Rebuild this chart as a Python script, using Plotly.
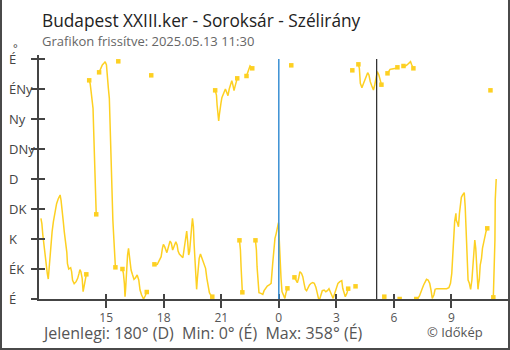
import plotly.graph_objects as go
import pandas as pd

# ---------------- data ----------------
START = pd.Timestamp("2025-05-12 11:30")
END = pd.Timestamp("2025-05-13 12:00")

# minutes after 2025-05-12 11:30
minutes = [
    6, 9, 12, 16, 19, 22, 26, 29, 31, 34, 38, 41, 45, 50, 55, 60, 66, 69, 73, 76,
    79, 84, 87, 89, 93, 99, 102, 105, 110, 116, 121, 125, 128, 131, 135, 138, 141, 144, 148,
    157, 160, 163, 166, 169, 171, 174, 177, 179,
    188, 191, 194, 198, 203, 207, 211, 213, 217, 220, 222, 224, 227, 231, 234, 237, 239,
    248,
    261, 264, 267, 269, 271, 274, 277, 280, 282, 284, 288, 292, 297, 302, 307, 312, 316, 321, 327, 332, 337,
    351,
    361, 363, 370, 375, 382, 386, 389, 393, 396, 400, 405, 410, 414, 418, 422, 428, 432, 435, 439, 444,
    450, 453, 456, 459, 462, 465, 468, 471, 475, 478, 480, 483, 485, 488, 491, 493, 495, 498, 501, 505,
    509, 513, 517, 521, 525, 529, 533, 537, 542,
    551, 555, 557, 560, 562, 564, 567, 569, 572, 576, 579, 583, 587, 591, 595, 600, 603, 606, 610, 613, 616, 620,
    627, 630, 632, 635, 636,
    649, 652, 657, 660, 667,
    677, 680, 682, 685, 688, 694, 700, 704, 709, 714, 720, 726, 731, 735, 738, 742, 745, 749, 751, 753,
    757, 760, 764, 769, 772, 777,
    789,
    799, 803, 808, 812, 816, 821, 825, 829, 833, 837, 842, 846, 851, 856, 861, 866, 870, 874, 878, 882,
    886, 892, 897, 902, 907, 911, 916, 920, 925, 930, 935, 941, 947, 950, 954, 958, 963, 967,
    980, 990,
    999, 1002, 1005, 1010, 1014, 1018, 1023, 1028, 1032, 1036, 1041, 1046, 1050, 1054, 1058, 1063, 1067, 1071,
    1080,
    1090, 1094, 1098, 1104, 1111, 1117, 1121,
    1128,
    1140, 1146, 1151, 1157, 1162, 1166, 1171,
    1180, 1185, 1190, 1195, 1199, 1203, 1208, 1212, 1217, 1222, 1226, 1230, 1235, 1239, 1244, 1254, 1265,
    1275, 1282, 1287, 1291, 1294, 1297, 1300, 1304, 1305, 1309, 1312, 1315, 1318, 1321, 1325, 1330, 1333,
    1336, 1339, 1342, 1346, 1350, 1354, 1357, 1360, 1363, 1366, 1369, 1371, 1373, 1375, 1377, 1380, 1384,
    1387, 1390, 1394, 1398, 1402,
    1412,
    1421, 1423, 1426, 1427, 1430,
]

# wind direction, degrees
degrees = [
    121, 113, 96, 78, 63, 55, 38, 30, 43, 63, 86, 101, 116, 131, 143, 150, 156, 148, 133, 116,
    101, 85, 70, 53, 45, 47, 41, 28, 23, 26, 31, 38, 44, 41, 31, 11, 21, 28, 37,
    328, 323, 311, 298, 286, 253, 203, 153, 127,
    340, 343.5, 347, 351, 353.5, 356, 351, 333, 316, 301, 268.5, 213, 173.5, 118.5, 91, 61, 47.5,
    356.5,
    45, 38.5, 23.5, 3.5, 16, 53.5, 66, 76, 68.5, 53.5, 43.5, 37, 29.5, 32, 36, 28.5, 13.5, 6, 0, 4.5, 10.5,
    335.5,
    52, 51, 52, 56, 63.5, 76, 82, 78.5, 73.5, 69.5, 78.5, 87, 83.5, 73.5, 78.5, 86, 81, 72, 67.5, 65,
    62, 72, 81, 96, 102, 86, 66, 71, 88.5, 111, 121, 108.5, 83.5, 55, 28.5, 14.5, 28.5, 43.5, 61, 67.5,
    62.5, 57.5, 51, 46, 31, 18.5, 9.5, 6, 3.5,
    313, 306, 291, 276, 267, 276, 283.5, 293.5, 302, 307, 311, 315, 310, 305, 315, 325, 327.5, 322, 312.5, 318.5, 326, 331,
    88, 73.5, 48.5, 23.5, 10,
    334.5, 338.5, 347.5, 349.5, 346,
    88, 73.5, 48.5, 23.5, 9.5, 8.5, 7, 12.5, 17, 19.5, 21, 23.5, 53.5, 76, 91, 98.5, 108.5, 114.5, 93.5, 63.5,
    31, 11, 6, 1, 8.5, 16,
    350.5,
    32.5, 28.5, 24.5, 31, 41, 38.5, 33.5, 23.5, 14.5, 12.5, 17.5, 21, 23.5, 24.5, 23.5, 17.5, 9.5, 1, 0, 6,
    12.5, 13.5, 11, 12.5, 15.5, 11, 3.5, 1, 8.5, 17.5, 23.5, 26, 27.5, 16, 8.5, 3.5, 8.5, 15.5,
    343, 19,
    352, 346, 323.5, 317, 322, 327.5, 333.5, 339.5, 336, 326, 319.5, 313.5, 321, 334.5, 341, 336, 328.5, 321.5,
    3.5,
    338.5, 341, 344.5, 345, 345, 346, 347.5,
    0,
    349.5, 349.5, 351, 354.5, 356, 351, 346,
    0, 1, 4.5, 9.5, 16, 21, 26, 29.5, 28.5, 23.5, 13.5, 1, 6, 14.5, 15.5, 15.5, 15.5,
    15.5, 17, 23.5, 38.5, 63.5, 88.5, 116, 128.5, 118.5, 113.5, 108.5, 128.5, 143.5, 152.5, 156, 159.5, 138.5,
    96, 53.5, 28.5, 23.5, 14.5, 28.5, 51, 74.5, 88.5, 76, 51, 28.5, 14.5, 23.5, 28.5, 51, 61,
    76, 84.5, 96, 101, 106,
    313,
    2.5, 31, 88.5, 148.5, 180,
]

dir_labels = ["É", "ÉK", "K", "DK", "D", "DNy", "Ny", "ÉNy", "É"]
dir_values = [0, 45, 90, 135, 180, 225, 270, 315, 360]

hour_ticks = list(pd.date_range("2025-05-12 15:00", "2025-05-13 12:00", freq="3h"))
hour_labels = [str(t.hour) for t in hour_ticks]

midnight = "2025-05-13 00:00"
sunrise = "2025-05-13 05:06"

title_text = "Budapest XXIII.ker - Soroksár - Szélirány"
subtitle_text = "Grafikon frissítve: 2025.05.13 11:30"
stats_text = "Jelenlegi: 180° (D)&nbsp;&nbsp;Min: 0° (É)&nbsp;&nbsp;Max: 358° (É)"
credit_text = "© Időkép"

# ---------------- build segments (break where direction wraps) ----------------
times = [START + pd.Timedelta(minutes=m) for m in minutes]
segments = []
cur = [0]
for i in range(1, len(degrees)):
    if abs(degrees[i] - degrees[i - 1]) > 180:
        segments.append(cur)
        cur = [i]
    else:
        cur.append(i)
segments.append(cur)

lx, ly = [], []
for seg in segments:
    for i in seg:
        lx.append(times[i])
        ly.append(degrees[i])
    lx.append(None)
    ly.append(None)

mk = set()
for seg in segments:
    mk.add(seg[0])
    mk.add(seg[-1])
mk.discard(0)
mk.discard(len(degrees) - 1)
mk = sorted(mk)
mx = [times[i] for i in mk]
my = [degrees[i] for i in mk]

YELLOW = "#FDD022"
AXC = "#444444"
FONT = "Open Sans"

fig = go.Figure()
fig.add_trace(go.Scatter(x=lx, y=ly, mode="lines", connectgaps=False,
                         line=dict(color=YELLOW, width=1.5), hoverinfo="skip"))
fig.add_trace(go.Scatter(x=mx, y=my, mode="markers",
                         marker=dict(symbol="square", size=4.5, color=YELLOW), hoverinfo="skip"))
fig.add_trace(go.Scatter(x=[START], y=[None], xaxis="x2", yaxis="y2", mode="markers",
                         hoverinfo="skip"))

# vertical event lines
fig.add_shape(type="line", x0=midnight, x1=midnight, y0=0, y1=360, xref="x", yref="y",
              line=dict(color="#3A8FD3", width=1.5))
fig.add_shape(type="line", x0=sunrise, x1=sunrise, y0=0, y1=360, xref="x", yref="y",
              line=dict(color="#333333", width=1.3))

L, R, T, B = 39, 1, 55, 51
PW, PH = 510 - L - R, 350 - T - B


def px(x):
    return (x - L) / PW


def py(y):
    return (350 - B - y) / PH


# frame
for x0, y0, x1, y1 in [(1, 0, 1, 349), (509, 0, 509, 349), (0, 349, 510, 349)]:
    fig.add_shape(type="line", xref="paper", yref="paper",
                  x0=px(x0), x1=px(x1), y0=py(y0), y1=py(y1),
                  line=dict(color="#4a4a4a", width=2))

ann = [
    dict(text=title_text, x=px(40), y=py(20), font=dict(size=17.3, color="#222222")),
    dict(text=subtitle_text, x=px(40), y=py(41), font=dict(size=13, color="#666666")),
    dict(text=stats_text, x=px(40), y=py(333), font=dict(size=16, color="#555555")),
    dict(text=credit_text, x=px(425), y=py(332), font=dict(size=13, color="#555555")),
    dict(text="°", x=px(11), y=py(48), font=dict(size=11, color=AXC)),
]
for a in ann:
    fig.add_annotation(xref="paper", yref="paper", xanchor="left", yanchor="middle",
                       showarrow=False, **a)
for lab, val in zip(dir_labels, dir_values):
    fig.add_annotation(xref="paper", yref="y", x=px(7), y=val, text=lab, xanchor="left",
                       yanchor="middle", showarrow=False, font=dict(size=13, color=AXC))

xcommon = dict(type="date", range=[START, END], tickmode="array", tickvals=hour_ticks,
               showgrid=False, zeroline=False, tickcolor=AXC, tickwidth=1.5)
ycommon = dict(range=[0, 366], tickvals=dir_values, showgrid=False, zeroline=False,
               tickcolor=AXC, tickwidth=1.5, showticklabels=False)

fig.update_layout(
    width=510, height=350, margin=dict(l=L, r=R, t=T, b=B),
    paper_bgcolor="white", plot_bgcolor="white", showlegend=False,
    font=dict(family=FONT, color=AXC),
    xaxis=dict(**xcommon, ticktext=hour_labels, ticks="outside", ticklen=7,
               showline=True, linecolor=AXC, linewidth=2,
               tickfont=dict(size=12, color="#555555")),
    xaxis2=dict(**xcommon, overlaying="x", anchor="y", side="bottom", ticks="inside",
                ticklen=5, showticklabels=False, showline=False),
    yaxis=dict(**ycommon, ticks="outside", ticklen=6, showline=True, linecolor=AXC,
               linewidth=2),
    yaxis2=dict(**ycommon, overlaying="y", anchor="x", side="left", ticks="inside",
                ticklen=6, showline=False),
)

fig.write_html("out.html")
